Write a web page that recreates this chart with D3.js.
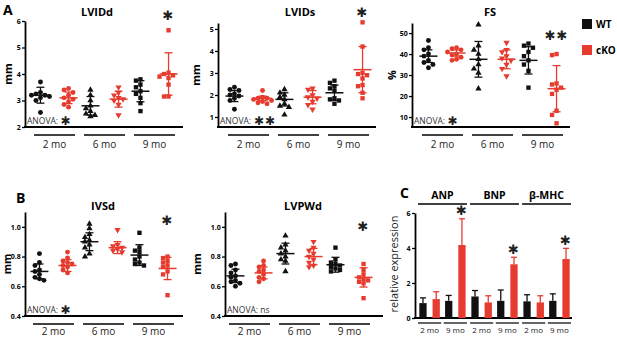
<!DOCTYPE html>
<html>
<head>
<meta charset="utf-8">
<script src="https://cdn.jsdelivr.net/npm/d3@7"></script>
<style>
  body { margin: 0; background: #fff; }
  text { font-family: "Open Sans", sans-serif; }
</style>
</head>
<body>
<div id="chart"></div>
<script>
// categories
var timepoints = ["2 mo", "6 mo", "9 mo"];
var genotypes = ["WT", "cKO"];

// echo values, order of each list: WT 2mo, cKO 2mo, WT 6mo, cKO 6mo, WT 9mo, cKO 9mo
var lviddPoints = [
  [3.7, 3.3, 3.25, 3.2, 3.15, 3.1, 3.2, 3.0, 2.55],
  [3.45, 3.4, 3.3, 3.2, 3.1, 3.05, 2.95, 2.85, 2.75],
  [3.4, 3.2, 3.0, 2.8, 2.7, 2.6, 2.5, 2.45, 2.4],
  [3.5, 3.3, 3.2, 3.1, 3.05, 3.0, 2.85, 2.45],
  [3.8, 3.75, 3.6, 3.5, 3.35, 3.25, 3.1, 2.9, 2.6],
  [5.65, 4.05, 4.0, 3.95, 3.9, 3.85, 3.6, 3.15, 3.15]
];
var lviddMean = [3.2, 3.1, 2.8, 3.05, 3.35, 4.0];
var lviddSd = [0.3, 0.22, 0.35, 0.3, 0.4, 0.8];

var lvidsPoints = [
  [2.35, 2.25, 2.2, 2.05, 2.0, 1.95, 1.85, 1.75, 1.35],
  [2.2, 1.9, 1.85, 1.85, 1.8, 1.75, 1.7, 1.65, 1.6],
  [2.25, 2.1, 2.0, 1.9, 1.8, 1.6, 1.5, 1.45, 1.1],
  [2.3, 2.25, 2.0, 1.9, 1.85, 1.7, 1.55, 1.35],
  [2.65, 2.55, 2.4, 2.3, 2.2, 1.85, 1.8, 1.75, 1.6],
  [5.3, 4.2, 3.0, 2.95, 2.9, 2.75, 2.45, 2.4, 2.1, 1.85]
];
var lvidsMean = [1.95, 1.85, 1.8, 1.9, 2.1, 3.15];
var lvidsSd = [0.25, 0.1, 0.3, 0.3, 0.35, 1.05];

var fsPoints = [
  [46.5, 43, 42, 40, 39, 37, 36, 35, 33.5],
  [43, 42.5, 42, 41, 40, 39.5, 38.5, 37.5, 37],
  [54, 44, 42, 40, 37.5, 35, 33, 31, 23.5],
  [45.5, 42, 41, 39, 38, 37, 35, 33, 29.5],
  [45, 44, 43, 41, 39, 37, 35, 32, 24],
  [40, 39.5, 26, 25.5, 24, 23, 21, 13, 11, 7]
];
var fsMean = [39, 40.5, 37.5, 37.5, 37, 23.5];
var fsSd = [3, 1.5, 8.5, 4.5, 6.5, 11];

var ivsdPoints = [
  [0.82, 0.76, 0.74, 0.71, 0.70, 0.68, 0.66, 0.65, 0.64],
  [0.83, 0.79, 0.77, 0.76, 0.75, 0.74, 0.73, 0.71, 0.69],
  [1.02, 0.99, 0.95, 0.93, 0.91, 0.90, 0.88, 0.86, 0.82, 0.80],
  [0.98, 0.88, 0.87, 0.86, 0.85, 0.84, 0.83],
  [0.96, 0.86, 0.84, 0.83, 0.80, 0.78, 0.76, 0.75, 0.74],
  [0.80, 0.79, 0.77, 0.76, 0.74, 0.73, 0.70, 0.68, 0.54]
];
var ivsdMean = [0.70, 0.74, 0.90, 0.86, 0.81, 0.72];
var ivsdSd = [0.05, 0.04, 0.06, 0.04, 0.07, 0.075];

var lvpwdPoints = [
  [0.75, 0.74, 0.71, 0.69, 0.67, 0.66, 0.64, 0.63, 0.62, 0.60],
  [0.77, 0.74, 0.73, 0.71, 0.70, 0.68, 0.66, 0.65, 0.63],
  [0.94, 0.88, 0.86, 0.84, 0.82, 0.80, 0.78, 0.77, 0.70],
  [0.90, 0.86, 0.84, 0.82, 0.80, 0.78, 0.76, 0.74, 0.73],
  [0.86, 0.78, 0.76, 0.75, 0.74, 0.73, 0.72, 0.71, 0.70],
  [0.75, 0.71, 0.68, 0.66, 0.65, 0.64, 0.63, 0.62, 0.52]
];
var lvpwdMean = [0.67, 0.69, 0.82, 0.80, 0.745, 0.66];
var lvpwdSd = [0.045, 0.04, 0.07, 0.055, 0.05, 0.065];

// qPCR, order: WT 2mo, cKO 2mo, WT 9mo, cKO 9mo
var genes = ["ANP", "BNP", "β-MHC"];
var exprTimes = ["2 mo", "9 mo"];
var anpMean = [0.85, 1.08, 0.98, 4.17];
var anpErr = [0.3, 0.42, 0.31, 1.5];
var bnpMean = [1.23, 0.89, 0.98, 3.07];
var bnpErr = [0.34, 0.38, 0.62, 0.4];
var mhcMean = [0.95, 0.89, 0.98, 3.37];
var mhcErr = [0.38, 0.38, 0.4, 0.61];

var red = "#e63b2e", black = "#111";

var svg = d3.select("#chart").append("svg")
  .attr("width", 617)
  .attr("height", 337);

function star(g, x, y, n, size) {
  var s = "";
  for (var i = 0; i < n; i++) s += "✱";
  g.append("text")
    .attr("x", x).attr("y", y)
    .attr("text-anchor", "middle")
    .attr("dominant-baseline", "central")
    .style("font-family", "DejaVu Sans")
    .style("font-size", (size || 12) + "px")
    .style("letter-spacing", "1px")
    .attr("fill", "#222")
    .text(s);
}

// simple beeswarm so points don't sit on each other
function swarm(vals, y) {
  var placed = [];
  var out = [];
  var order = vals.map((v, i) => i).sort((a, b) => vals[b] - vals[a]);
  var cands = [0, -4.5, 4.5, -9, 9];
  order.forEach(function(i) {
    var py = y(vals[i]);
    var c = cands.find(c => placed.every(p => Math.hypot(p[0] - c, p[1] - py) >= 4.4));
    if (c === undefined) c = cands[(i % 4) + 1];
    out[i] = c;
    placed.push([c, py]);
  });
  return out;
}

function styleAxis(a) {
  a.select(".domain").attr("stroke", "#000").attr("stroke-width", 1.8);
  a.selectAll(".tick line").attr("stroke", "#000").attr("stroke-width", 1.3);
  a.selectAll(".tick text")
    .style("font-size", "7px")
    .style("font-weight", "bold")
    .attr("fill", "#000");
}

function drawScatter(p) {
  var g = svg.append("g");
  var y = d3.scaleLinear().domain(p.domain).range([p.bottom, p.top]);
  var xGroup = d3.scaleBand().domain(timepoints)
    .range([p.x0 + p.inset, p.x0 + p.inset + 141]).paddingInner(0.18);
  var xGeno = d3.scalePoint().domain(genotypes)
    .range([0, xGroup.bandwidth()]).padding(0.23);

  var ax = g.append("g")
    .attr("transform", `translate(${p.x0},0)`)
    .call(d3.axisLeft(y).tickValues(p.ticks).tickSize(3).tickPadding(1.2)
      .tickSizeOuter(0).tickFormat(p.format));
  styleAxis(ax);

  g.append("line")
    .attr("x1", p.x0 - 1).attr("x2", p.x0 + 158)
    .attr("y1", p.bottom).attr("y2", p.bottom)
    .attr("stroke", "#000").attr("stroke-width", 1.8);

  // group underlines + labels
  timepoints.forEach(function(t) {
    g.append("line")
      .attr("x1", xGroup(t)).attr("x2", xGroup(t) + xGroup.bandwidth())
      .attr("y1", p.bottom + 8).attr("y2", p.bottom + 8)
      .attr("stroke", "#000").attr("stroke-width", 1.6);
    g.append("text")
      .attr("x", xGroup(t) + xGroup.bandwidth() / 2)
      .attr("y", p.bottom + p.labelDy)
      .attr("text-anchor", "middle")
      .style("font-size", "10px")
      .attr("fill", "#222")
      .text(t);
  });

  p.points.forEach(function(vals, k) {
    var ti = Math.floor(k / 2);
    var geno = genotypes[k % 2];
    var cx = xGroup(timepoints[ti]) + xGeno(geno);
    var col = geno == "WT" ? black : red;
    var type = [d3.symbolCircle, d3.symbolTriangle, d3.symbolSquare][ti];
    var flip = (ti == 1 && geno == "cKO") ? " rotate(180)" : "";
    var offs = swarm(vals, y);

    g.selectAll(null)
      .data(vals)
      .enter()
      .append("path")
      .attr("d", d3.symbol().type(type).size(ti == 1 ? 17 : 19))
      .attr("transform", (d, i) => `translate(${cx + offs[i]},${y(d)})${flip}`)
      .attr("fill", col);

    var m = p.mean[k], s = p.sd[k];
    g.append("line")
      .attr("x1", cx - 9).attr("x2", cx + 9)
      .attr("y1", y(m)).attr("y2", y(m))
      .attr("stroke", col).attr("stroke-width", 1.5);
    g.append("line")
      .attr("x1", cx).attr("x2", cx)
      .attr("y1", y(m - s)).attr("y2", y(m + s))
      .attr("stroke", col).attr("stroke-width", 1.3);
    [m - s, m + s].forEach(function(v) {
      g.append("line")
        .attr("x1", cx - 4).attr("x2", cx + 4)
        .attr("y1", y(v)).attr("y2", y(v))
        .attr("stroke", col).attr("stroke-width", 1.3);
    });
    if (k == 5) star(g, cx, y(p.starAt), p.stars, 13);
  });

  g.append("text")
    .attr("x", p.titleX).attr("y", p.titleY)
    .attr("text-anchor", "middle")
    .style("font-size", "11px").style("font-weight", "bold")
    .text(p.title);

  g.append("text")
    .attr("transform", `translate(${p.labelX},${(p.top + p.bottom) / 2}) rotate(-90)`)
    .attr("text-anchor", "middle")
    .attr("dy", "0.35em")
    .style("font-size", p.unitSize || "11px").style("font-weight", "bold")
    .text(p.unit);

  var an = g.append("text")
    .attr("x", p.x0 + 2).attr("y", p.bottom - 3)
    .style("font-size", "8.5px")
    .attr("fill", "#333")
    .text(p.anova);
  if (p.anovaStars) {
    var w = an.node().getComputedTextLength();
    star(g, p.x0 + 4 + w + p.anovaStars * 6, p.bottom - 6, p.anovaStars, 12);
  }
}

drawScatter({x0: 25, inset: 9, top: 21, bottom: 127, domain: [2, 6], ticks: [2, 3, 4, 5, 6],
  format: d3.format("d"), points: lviddPoints, mean: lviddMean, sd: lviddSd,
  title: "LVIDd", titleX: 97, titleY: 16, unit: "mm", labelX: 8, labelDy: 20.5,
  anova: "ANOVA:", anovaStars: 1, starAt: 6.2, stars: 1});

drawScatter({x0: 218, inset: 10, top: 23, bottom: 127, domain: [0.545, 5.27], ticks: [1, 2, 3, 4, 5],
  format: d3.format("d"), points: lvidsPoints, mean: lvidsMean, sd: lvidsSd,
  title: "LVIDs", titleX: 300, titleY: 16, unit: "mm", labelX: 196, labelDy: 20.5,
  anova: "ANOVA:", anovaStars: 2, starAt: 5.75, stars: 1});

drawScatter({x0: 412, inset: 10, top: 23, bottom: 127, domain: [5.24, 54.8], ticks: [10, 20, 30, 40, 50],
  format: d3.format("d"), points: fsPoints, mean: fsMean, sd: fsSd,
  title: "FS", titleX: 490, titleY: 16, unit: "%", labelX: 392, labelDy: 20.5,
  anova: "ANOVA:", anovaStars: 1, starAt: 49, stars: 2});

drawScatter({x0: 25, inset: 8, top: 212, bottom: 316, domain: [0.4, 1.1], ticks: [0.4, 0.6, 0.8, 1.0],
  format: d3.format(".1f"), points: ivsdPoints, mean: ivsdMean, sd: ivsdSd,
  title: "IVSd", titleX: 103, titleY: 210, unit: "mm", unitSize: "10.5px", labelX: 7, labelDy: 19,
  anova: "ANOVA:", anovaStars: 1, starAt: 1.04, stars: 1});

drawScatter({x0: 225, inset: 4, top: 212, bottom: 316, domain: [0.4, 1.1], ticks: [0.4, 0.6, 0.8, 1.0],
  format: d3.format(".1f"), points: lvpwdPoints, mean: lvpwdMean, sd: lvpwdSd,
  title: "LVPWd", titleX: 303, titleY: 210, unit: "mm", labelX: 197, labelDy: 19,
  anova: "ANOVA: ns", anovaStars: 0, starAt: 1.0, stars: 1});

// panel letters
[["A", 3, 15], ["B", 16, 203], ["C", 400, 198]].forEach(function(l) {
  svg.append("text")
    .attr("x", l[1]).attr("y", l[2])
    .style("font-size", "14px").style("font-weight", "bold")
    .text(l[0]);
});

// legend
genotypes.forEach(function(gt, i) {
  svg.append("rect")
    .attr("x", 582).attr("y", 19 + i * 26)
    .attr("width", 10).attr("height", 10)
    .attr("fill", gt == "WT" ? black : red);
  svg.append("text")
    .attr("x", 596).attr("y", 28 + i * 26)
    .style("font-size", "10px").style("font-weight", "bold")
    .text(gt);
});

// panel C: relative expression bars
var cY = d3.scaleLinear().domain([0, 6]).range([318, 213]);
var geneX = d3.scaleBand().domain(genes).range([418, 571]).paddingInner(0.06);
var timeX = d3.scaleBand().domain(exprTimes).range([0, geneX.bandwidth()]).paddingInner(0.1);
var genoX = d3.scaleBand().domain(genotypes).range([0, timeX.bandwidth()])
  .paddingInner(0.45).paddingOuter(0.1);

var cg = svg.append("g");
var cax = cg.append("g")
  .attr("transform", "translate(415,0)")
  .call(d3.axisLeft(cY).tickValues([0, 2, 4, 6]).tickSize(3).tickPadding(1.5)
    .tickSizeOuter(0).tickFormat(d3.format("d")));
styleAxis(cax);
cg.append("line")
  .attr("x1", 414).attr("x2", 572)
  .attr("y1", 318).attr("y2", 318)
  .attr("stroke", "#000").attr("stroke-width", 1.8);

var exprMeans = [anpMean, bnpMean, mhcMean];
var exprErrs = [anpErr, bnpErr, mhcErr];

genes.forEach(function(gene, gi) {
  var gx = geneX(gene);
  cg.append("line")
    .attr("x1", gx).attr("x2", gx + geneX.bandwidth())
    .attr("y1", 204).attr("y2", 204)
    .attr("stroke", "#000").attr("stroke-width", 1.5);
  cg.append("text")
    .attr("x", gx + geneX.bandwidth() / 2).attr("y", 199)
    .attr("text-anchor", "middle")
    .style("font-size", "10.5px").style("font-weight", "bold")
    .text(gene);

  exprTimes.forEach(function(t, ti) {
    var tx = gx + timeX(t);
    cg.append("line")
      .attr("x1", tx).attr("x2", tx + timeX.bandwidth())
      .attr("y1", 323).attr("y2", 323)
      .attr("stroke", "#000").attr("stroke-width", 1.2);
    cg.append("text")
      .attr("x", tx + timeX.bandwidth() / 2).attr("y", 333)
      .attr("text-anchor", "middle")
      .style("font-size", "8px")
      .attr("fill", "#222")
      .text(t);

    genotypes.forEach(function(gt, k) {
      var idx = ti * 2 + k;
      var v = exprMeans[gi][idx], e = exprErrs[gi][idx];
      var bx = tx + genoX(gt);
      var col = gt == "WT" ? black : red;
      var cx = bx + genoX.bandwidth() / 2;
      cg.append("line")
        .attr("x1", cx).attr("x2", cx)
        .attr("y1", cY(v)).attr("y2", cY(v + e))
        .attr("stroke", col).attr("stroke-width", 1.3);
      cg.append("line")
        .attr("x1", cx - 3).attr("x2", cx + 3)
        .attr("y1", cY(v + e)).attr("y2", cY(v + e))
        .attr("stroke", col).attr("stroke-width", 1.3);
      cg.append("rect")
        .attr("x", bx).attr("y", cY(v))
        .attr("width", genoX.bandwidth()).attr("height", cY(0) - cY(v))
        .attr("fill", col);
      if (idx == 3) star(cg, cx, cY(v + e) - 8, 1, 13);
    });
  });
});

cg.append("text")
  .attr("transform", "translate(394,264) rotate(-90)")
  .attr("text-anchor", "middle")
  .attr("dy", "0.35em")
  .style("font-size", "11px")
  .attr("fill", "#222")
  .text("relative expression");
</script>
</body>
</html>
